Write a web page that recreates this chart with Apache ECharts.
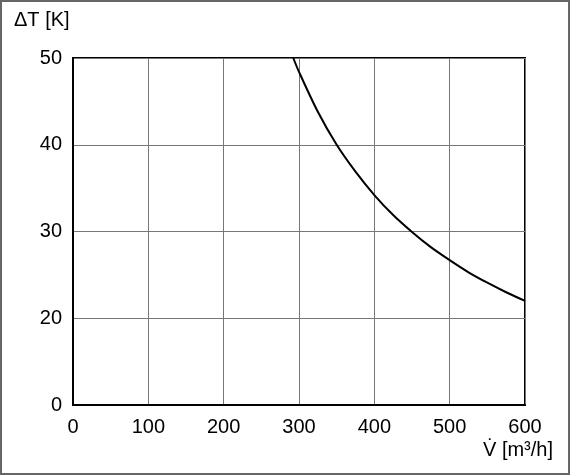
<!DOCTYPE html>
<html>
<head>
<meta charset="utf-8">
<script src="https://cdn.jsdelivr.net/npm/echarts@6/dist/echarts.min.js"></script>
<style>
  html, body { margin: 0; padding: 0; background: #fff; }
  #chart { width: 570px; height: 475px; }
</style>
</head>
<body>
<div id="chart"></div>
<script>
// Volumenstrom V [m³/h] und Temperaturdifferenz ΔT [K]
const flowValues = [292.4, 300, 325, 350, 375, 400, 425, 450, 475, 500, 525, 550, 575, 600]
const deltaTValues = [50, 48.4, 43.8, 40.0, 36.9, 34.2, 31.9, 29.95, 28.2, 26.7, 25.3, 24.1, 23.0, 22.0]
// y-Achse: unterer Rand ist als "0" beschriftet, die Skala beginnt aber bei 10
const yTickLabels = { 10: '0', 20: '20', 30: '30', 40: '40', 50: '50' }

const font = '"Liberation Sans", Arial, sans-serif'

const chart = echarts.init(document.getElementById('chart'))

const option = {
  animation: false,
  backgroundColor: '#fff',
  grid: {
    left: 73,
    right: 45,
    top: 58,
    bottom: 70,
    show: true,
    borderColor: '#000',
    borderWidth: 2
  },
  xAxis: {
    type: 'value',
    min: 0,
    max: 600,
    interval: 100,
    axisLine: { show: true, lineStyle: { color: '#000', width: 2 } },
    axisTick: { show: false },
    axisLabel: { color: '#000', fontSize: 20, fontFamily: font, margin: 12 },
    splitLine: { show: true, lineStyle: { color: '#777', width: 1 } }
  },
  yAxis: {
    type: 'value',
    min: 10,
    max: 50,
    interval: 10,
    axisLine: { show: true, lineStyle: { color: '#000', width: 2 } },
    axisTick: { show: false },
    axisLabel: {
      color: '#000',
      fontSize: 20,
      fontFamily: font,
      margin: 11,
      formatter: v => yTickLabels[v] ?? String(v)
    },
    splitLine: { show: true, lineStyle: { color: '#777', width: 1 } }
  },
  series: [
    {
      type: 'line',
      data: flowValues.map((v, i) => [v, deltaTValues[i]]),
      smooth: 0.3,
      symbol: 'none',
      lineStyle: { color: '#000', width: 2 },
      z: 5
    }
  ],
  graphic: [
    {
      type: 'rect',
      shape: { x: 1, y: 1, width: 568, height: 473 },
      style: { fill: 'none', stroke: '#666', lineWidth: 2 },
      silent: true
    },
    {
      type: 'text',
      x: 14,
      y: 20,
      style: {
        text: 'ΔT [K]', fill: '#000', fontSize: 20, fontFamily: font,
        verticalAlign: 'middle'
      }
    },
    {
      type: 'text',
      x: 553,
      y: 450,
      style: {
        text: 'V\u0307 [m³/h]', fill: '#000', fontSize: 20, fontFamily: font,
        align: 'right', verticalAlign: 'middle'
      }
    }
  ]
}

chart.setOption(option)
</script>
</body>
</html>
